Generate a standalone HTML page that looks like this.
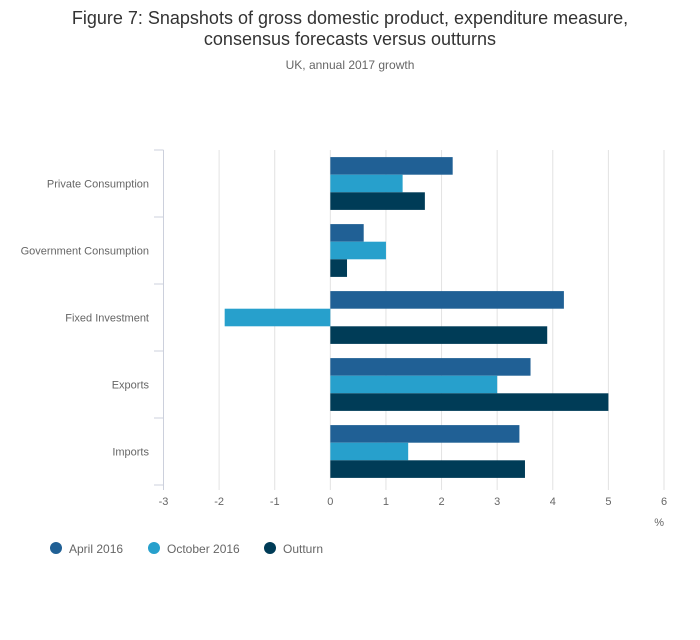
<!DOCTYPE html>
<html><head><meta charset="utf-8"><style>
body{margin:0;background:#fff;font-family:"Liberation Sans",sans-serif;}
</style></head><body>
<svg width="700" height="635" xmlns="http://www.w3.org/2000/svg" id="chart">
<text x="350" y="24" text-anchor="middle" font-size="18" fill="#333">Figure 7: Snapshots of gross domestic product, expenditure measure,</text>
<text x="350" y="45" text-anchor="middle" font-size="18" fill="#333">consensus forecasts versus outturns</text>
<text x="350" y="69" text-anchor="middle" font-size="12" fill="#666">UK, annual 2017 growth</text>
<g id="grid"></g><g id="bars"></g><g id="axes"></g>
<text x="664" y="526" text-anchor="end" font-size="11" fill="#666">%</text>
<g font-size="12" fill="#666">
<g><circle cx="56" cy="548" r="6" fill="#206095"/><text x="69" y="553">April 2016</text></g>
<g><circle cx="154" cy="548" r="6" fill="#27a0cc"/><text x="167" y="553">October 2016</text></g>
<g><circle cx="270" cy="548" r="6" fill="#003c57"/><text x="283" y="553">Outturn</text></g>
</g>
</svg>
<script>
const categories=["Private Consumption","Government Consumption","Fixed Investment","Exports","Imports"];
const april2016=[2.2,0.6,4.2,3.6,3.4];
const october2016=[1.3,1.0,-1.9,3.0,1.4];
const outturn=[1.7,0.3,3.9,5.0,3.5];
const xTicks=[-3,-2,-1,0,1,2,3,4,5,6];
const NS="http://www.w3.org/2000/svg";
const x0=163.5,x1=664,yTop=150,yBot=485,xmin=-3,xmax=6;
function xs(v){return x0+(v-xmin)/(xmax-xmin)*(x1-x0);}
const band=(yBot-yTop)/categories.length;
function mk(t,a,p){const e=document.createElementNS(NS,t);for(const k in a)e.setAttribute(k,a[k]);p.appendChild(e);return e;}
const grid=document.getElementById('grid'),bars=document.getElementById('bars'),axes=document.getElementById('axes');
xTicks.forEach(t=>{
 const l=mk('line',{x1:xs(t),x2:xs(t),y1:yTop,y2:yBot+5,stroke:t===xmin?'#ccd0dc':'#e2e2e2','stroke-width':1},grid);
 
 
 const tx=mk('text',{x:xs(t),y:yBot+20,'text-anchor':'middle','font-size':11,fill:'#666'},axes);
 tx.textContent=t;
 
 
});
const series=[[april2016,'#206095','april-2016'],[october2016,'#27a0cc','october-2016'],[outturn,'#003c57','outturn']];
const bh=17.6;
categories.forEach((c,i)=>{
 const y=yTop+i*band;
 const tk=mk('line',{x1:154,x2:x0,y1:y,y2:y,stroke:'#ccd0dc'},axes);
 
 
 const lb=mk('text',{x:149,y:y+band/2+4,'text-anchor':'end','font-size':11,fill:'#666'},axes);
 lb.textContent=c;
 
 
 const start=y+(band-bh*3)/2;
 series.forEach((s,j)=>{
  const v=s[0][i],a=xs(Math.min(0,v)),b=xs(Math.max(0,v));
  const r=mk('rect',{x:a,y:start+j*bh,width:b-a,height:bh,fill:s[1]},bars);
  
  
 });
});
const bt=mk('line',{x1:154,x2:x0,y1:yBot,y2:yBot,stroke:'#ccd0dc'},axes);


</script>
</body></html>
